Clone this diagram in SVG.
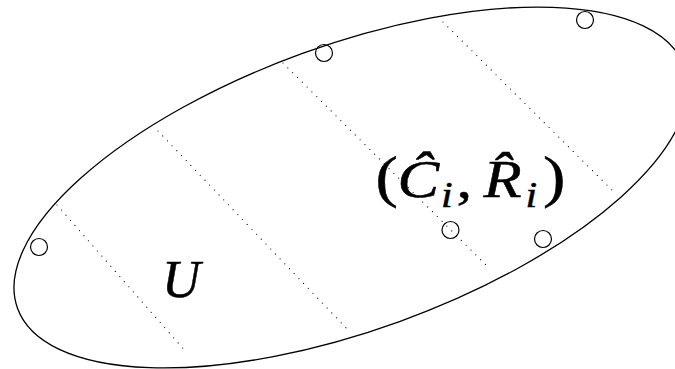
<svg xmlns="http://www.w3.org/2000/svg" width="675" height="369" viewBox="0 0 675 369">
<style>
.outline{fill:none;stroke:#000;stroke-width:1.3}
.dot{fill:none;stroke:#000;stroke-width:1.2;stroke-linecap:round;stroke-dasharray:0 6.8}
.pt{fill:none;stroke:#000;stroke-width:1.2}
.t{font-family:"Liberation Serif","Times New Roman",serif;fill:#000;stroke:#000;stroke-width:0.5}
.it{font-style:italic}
</style>
<rect width="675" height="369" fill="#fff"/>
<g id="region">
<ellipse class="outline" cx="351" cy="187.5" rx="354.7" ry="142.6" transform="rotate(-19.91 351 187.5)"/>
</g>
<g id="connectors">
<line class="dot" x1="57" y1="205" x2="187" y2="353"/>
<line class="dot" x1="158" y1="131" x2="349" y2="331"/>
<line class="dot" x1="283" y1="63" x2="489" y2="268"/>
<line class="dot" x1="443" y1="22" x2="616" y2="194"/>
</g>
<g id="p1"><circle class="pt" cx="39" cy="247" r="8.5"/></g>
<g id="p2"><circle class="pt" cx="324" cy="53" r="8.5"/></g>
<g id="p3"><circle class="pt" cx="585" cy="20" r="8.5"/></g>
<g id="p4"><circle class="pt" cx="450.5" cy="230" r="8.5"/></g>
<g id="p5"><circle class="pt" cx="543" cy="239" r="8.5"/></g>
<g id="label-U">
<text class="t it" x="162" y="297" font-size="53">U</text>
</g>
<g id="label-CR">
<text class="t" transform="scale(1.2,1)" font-size="52"><tspan x="313" y="196" font-size="56">(</tspan><tspan x="331.3" y="197" font-style="italic">Ĉ</tspan><tspan x="367.5" y="207" font-size="35" font-style="italic">i</tspan><tspan x="380.5" y="197">,</tspan><tspan x="403" y="197" font-style="italic">R̂</tspan><tspan x="438" y="207" font-size="35" font-style="italic">i</tspan><tspan x="452.5" y="196" font-size="56">)</tspan></text>
</g>
</svg>
